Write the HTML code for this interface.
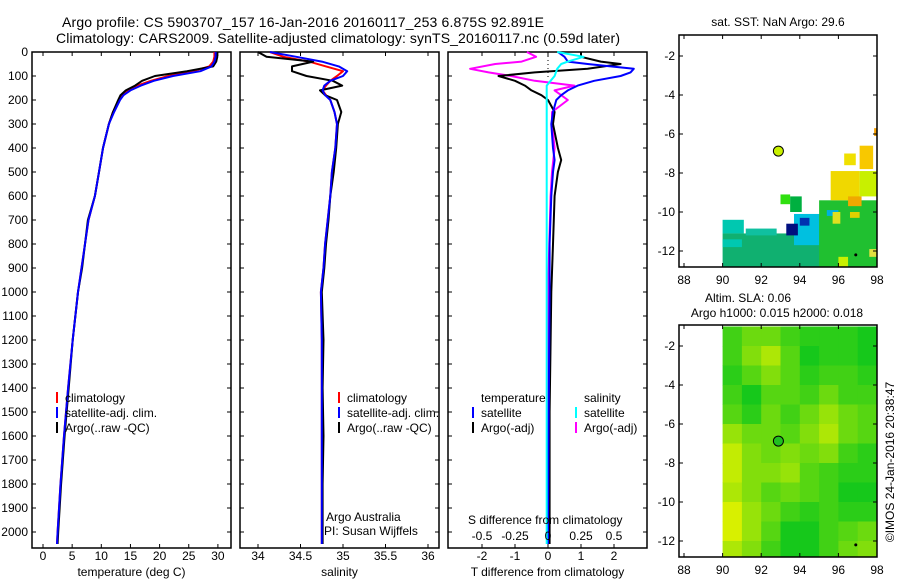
<!DOCTYPE html>
<html><head><meta charset="utf-8"><style>
body{margin:0;background:#fff}
svg{display:block;font-family:"Liberation Sans",sans-serif}
</style></head><body>
<svg id="c" width="900" height="580"></svg>
<script>
// ---- data ----
const depths=[0,20,40,60,80,100,120,140,160,180,200,250,300,400,500,600,700,800,900,1000,1200,1400,1600,1800,2000,2050];
const tempArgo=[29.8,29.9,29.7,29.2,24.7,19.2,17.0,15.8,14.2,13.3,12.9,12.0,11.3,10.3,9.6,8.9,7.7,7.2,6.7,6.0,5.1,4.4,3.7,3.1,2.6,2.5];
const tempClim=[29.4,29.4,29.2,28.5,25.7,21.5,18.5,16.2,14.5,13.5,13.0,12.0,11.3,10.3,9.6,8.9,7.8,7.2,6.6,6.0,5.1,4.3,3.6,3.0,2.5,2.4];
const tempSat=[29.6,29.6,29.4,28.9,27.0,22.3,19.0,16.8,15.0,13.8,13.2,12.2,11.3,10.3,9.6,8.9,7.8,7.2,6.6,6.0,5.1,4.3,3.6,3.0,2.5,2.4];
const salArgo=[34.0,34.1,34.65,34.4,34.4,34.57,34.88,34.99,34.73,34.79,34.93,34.98,34.94,34.92,34.89,34.85,34.83,34.8,34.78,34.75,34.77,34.76,34.77,34.76,34.76,34.76];
const salClim=[34.14,34.3,34.6,34.8,35.0,34.93,34.85,34.8,34.76,34.8,34.85,34.9,34.93,34.91,34.87,34.85,34.82,34.79,34.77,34.74,34.75,34.75,34.75,34.75,34.75,34.75];
const salSat=[34.14,34.45,34.75,34.95,35.05,35.0,34.85,34.78,34.76,34.79,34.85,34.9,34.93,34.91,34.87,34.85,34.82,34.79,34.77,34.74,34.75,34.75,34.75,34.75,34.75,34.75];
const diffDepths=[0,20,40,50,70,85,100,120,140,160,180,200,250,300,400,450,500,600,800,1000,1500,2000,2050];
const tDiffSat=[0.3,0.5,0.6,1.2,2.6,2.5,2.2,1.4,0.9,0.6,0.4,0.25,0.15,0.1,0.15,0.2,0.15,0.1,0.05,0.05,0.02,0.0,0.0];
const tDiffArgo=[1.0,1.0,1.6,2.2,1.2,-0.4,-1.5,-1.0,-0.7,-0.5,-0.2,0.0,0.2,0.15,0.3,0.4,0.3,0.2,0.15,0.1,0.05,0.05,0.05];
const sDiffArgo=[-0.16,-0.09,-0.2,-0.4,-0.59,-0.45,-0.28,-0.1,0.2,0.05,0.1,0.15,0.03,0.03,0.05,0.04,0.03,0.02,0.01,0.0,0.0,0.0,0.0];
const sDiffSat=[0.07,0.27,0.15,0.1,0.07,0.06,0.05,0.02,-0.01,-0.01,-0.01,-0.01,-0.01,-0.01,-0.01,-0.01,-0.01,-0.01,-0.01,-0.01,-0.01,-0.01,-0.01];
const depthTicks=[0,100,200,300,400,500,600,700,800,900,1000,1100,1200,1300,1400,1500,1600,1700,1800,1900,2000];
const tempTicks=[0,5,10,15,20,25,30];
const salTicks=[34,34.5,35,35.5,36];
const tDiffTicks=[-2,-1,0,1,2];
const sDiffTicks=[-0.5,-0.25,0,0.25,0.5];
const lonTicks=[88,90,92,94,96,98];
const latTicks=[-2,-4,-6,-8,-10,-12];
const slaGrid=[
[0.3,0.5,0.5,0.3,0.2,0.2,0.2,0.1],
[0.3,0.6,0.8,0.4,0.1,0.2,0.2,0.1],
[0.2,0.4,0.6,0.4,0.2,0.3,0.3,0.2],
[0.3,0.1,0.4,0.4,0.3,0.5,0.3,0.3],
[0.4,0.2,0.5,0.3,0.5,0.7,0.5,0.4],
[0.7,0.5,0.5,0.4,0.6,0.8,0.5,0.4],
[0.9,0.6,0.5,0.6,0.5,0.6,0.3,0.2],
[0.9,0.6,0.6,0.7,0.4,0.3,0.2,0.2],
[0.8,0.6,0.4,0.5,0.4,0.3,0.1,0.1],
[1.0,0.7,0.5,0.3,0.2,0.3,0.2,0.2],
[1.0,0.7,0.4,0.1,0.1,0.3,0.4,0.5],
[0.8,0.6,0.3,0.1,0.1,0.3,0.5,0.6]];
const sstCells=[
[90,91.1,-10.4,-11.1,"#00c8b0"],[90,98,-11.1,-12.8,"#10b070"],[91.2,92.8,-10.85,-11.2,"#10c0a0"],
[90,91,-11.4,-11.8,"#00c8b0"],[93.0,93.5,-9.1,-9.6,"#30e010"],[93.5,94.1,-9.2,-10.0,"#00b040"],
[93.7,95.3,-10.1,-11.7,"#00c0e0"],[94.0,94.5,-10.3,-10.7,"#0030b0"],[93.3,93.9,-10.6,-11.2,"#001080"],
[95.0,98,-9.4,-12.8,"#20c030"],[95.4,96.0,-9.9,-10.2,"#00b0e0"],
[95.6,97.1,-7.9,-9.4,"#f0d800"],[96.3,96.9,-7.0,-7.6,"#f0e000"],[97.1,97.8,-6.6,-7.8,"#f8c800"],
[97.85,98,-5.7,-6.1,"#f8a000"],[97.1,98,-7.9,-9.2,"#c8f000"],[96.5,97.2,-9.2,-9.7,"#f0a800"],
[95.7,96.1,-10.0,-10.6,"#e0e020"],[96.6,97.1,-10.0,-10.3,"#e0d000"],[97.6,98,-11.9,-12.3,"#e0e040"],
[96.0,96.5,-12.3,-12.8,"#c8f000"]];
const floatLon=92.891, floatLat=-6.875;

// ---- helpers ----
const S=document.getElementById('c');const NS='http://www.w3.org/2000/svg';
function el(t,a,p){const e=document.createElementNS(NS,t);for(const k in a)e.setAttribute(k,a[k]);(p||S).appendChild(e);return e;}
function txt(x,y,s,a){const e=el('text',Object.assign({x:x,y:y,'font-size':12,fill:'#000'},a||{}));e.textContent=s;return e;}
const dy=d=>52+0.24*d;
function panel(name,x0,x1,xs,ticks,fmt,labY,title){
  const g=el('g',{});
  el('rect',{x:x0,y:52,width:x1-x0,height:496,fill:'none',stroke:'#000','stroke-width':1.5},g);
  depthTicks.forEach(d=>{el('line',{x1:x0,x2:x0+4,y1:dy(d),y2:dy(d),stroke:'#000'},g);el('line',{x1:x1-4,x2:x1,y1:dy(d),y2:dy(d),stroke:'#000'},g);});
  ticks.forEach(v=>{const x=xs(v);el('line',{x1:x,x2:x,y1:52,y2:56,stroke:'#000'},g);el('line',{x1:x,x2:x,y1:544,y2:548,stroke:'#000'},g);
    const t=txt(x,labY,fmt(v),{'text-anchor':'middle'});});
  const t=txt((x0+x1)/2,576,title,{'text-anchor':'middle'});
  return g;
}
function line(g,xs,xsArr,ds,color,name,w){
  const pts=xsArr.map((v,i)=>xs(v).toFixed(1)+','+dy(ds[i]).toFixed(1)).join(' ');
  const p=el('polyline',{points:pts,fill:'none',stroke:color,'stroke-width':w||2,'stroke-linejoin':'round'},g);
  
}
function legend(x,y,color,label){const b=el('line',{x1:x,x2:x,y1:y-10,y2:y+1,stroke:color,'stroke-width':2});
  const t=txt(x+8,y,label);}

// title
let t=txt(62,27,'Argo profile: CS 5903707_157 16-Jan-2016 20160117_253 6.875S 92.891E',{'font-size':14,textLength:482});

t=txt(56,43,'Climatology: CARS2009. Satellite-adjusted climatology: synTS_20160117.nc (0.59d later)',{'font-size':14,textLength:564});

depthTicks.forEach(d=>{const t=txt(28,dy(d)+4,String(d),{'text-anchor':'end'});});

// panel 1 temperature
const tx=v=>43+5.83*v;
const g1=panel('temperature-panel',32,231,tx,tempTicks,String,560,'temperature (deg C)');
line(g1,tx,tempClim,depths,'#f00','clim-temp-line');line(g1,tx,tempArgo,depths,'#000','argo-temp-line');line(g1,tx,tempSat,depths,'#00f','sat-temp-line');
legend(57,402,'#f00','climatology');legend(57,417,'#00f','satellite-adj. clim.');legend(57,432,'#000','Argo(..raw -QC)');

// panel 2 salinity
const sx=v=>258+85*(v-34);
const g2=panel('salinity-panel',240,439,sx,salTicks,String,560,'salinity');
line(g2,sx,salClim,depths,'#f00','clim-sal-line');line(g2,sx,salArgo,depths,'#000','argo-sal-line');line(g2,sx,salSat,depths,'#00f','sat-sal-line');
legend(339,402,'#f00','climatology');legend(339,417,'#00f','satellite-adj. clim.');legend(339,432,'#000','Argo(..raw -QC)');
t=txt(326,521,'Argo Australia');
t=txt(324,535,'PI: Susan Wijffels');

// panel 3 differences
const dtx=v=>548+33*v, dsx=v=>548+132*v;
const g3=panel('difference-panel',448,647,dtx,tDiffTicks,String,560,'T difference from climatology');
sDiffTicks.forEach(v=>{const t=txt(dsx(v),540,String(v),{'text-anchor':'middle'});});
t=txt(468,524,'S difference from climatology');
el('line',{x1:548,x2:548,y1:56,y2:78,stroke:'#000','stroke-dasharray':'1,3'},g3);
line(g3,dsx,sDiffArgo,diffDepths,'#f0f','argo-sdiff-line');
line(g3,dtx,tDiffArgo,diffDepths,'#000','argo-tdiff-line');
line(g3,dtx,tDiffSat,diffDepths,'#00f','sat-tdiff-line');
line(g3,dsx,sDiffSat,diffDepths,'#0ff','sat-sdiff-line');
t=txt(481,402,'temperature');
t=txt(584,402,'salinity');
legend(473,417,'#00f','satellite');legend(473,432,'#000','Argo(-adj)');
legend(576,417,'#0ff','satellite');legend(576,432,'#f0f','Argo(-adj)');

// maps
const mx=v=>684+19.3*(v-88);
function mapGroup(name){const g=el('g',{});return g;}
function mapFrame(g,top,bot,my,labY){
  el('rect',{x:679,y:top,width:198,height:bot-top,fill:'none',stroke:'#000','stroke-width':1.5},g);
  latTicks.forEach(v=>{const y=my(v);el('line',{x1:679,x2:683,y1:y,y2:y,stroke:'#000'},g);el('line',{x1:873,x2:877,y1:y,y2:y,stroke:'#000'},g);
    const t=txt(675,y+4,String(v),{'text-anchor':'end'});});
  lonTicks.forEach(v=>{const x=mx(v);el('line',{x1:x,x2:x,y1:bot-4,y2:bot,stroke:'#000'},g);el('line',{x1:x,x2:x,y1:top,y2:top+4,stroke:'#000'},g);
    const t=txt(x,labY,String(v),{'text-anchor':'middle'});});
}
// SST map
const my1=v=>56+19.5*(-2-v);
const gm1=mapGroup('sst-map');
sstCells.forEach(c=>{const r=el('rect',{x:mx(c[0]),y:my1(c[2]),width:mx(c[1])-mx(c[0]),height:my1(c[3])-my1(c[2]),fill:c[4]},gm1);
  });
mapFrame(gm1,35,267,my1,284);
let c1=el('circle',{cx:mx(floatLon),cy:my1(floatLat),r:5,fill:'#c8f000',stroke:'#000'},gm1);

el('circle',{cx:mx(96.9),cy:my1(-12.2),r:1.5,fill:'#000'},gm1);
t=txt(778,26,'sat. SST: NaN Argo: 29.6',{'text-anchor':'middle'});
// SLA map
const my2=v=>346+19.5*(-2-v);
const gm2=mapGroup('sla-map');
const slaColor=v=>{const r=Math.round(0+216*v),gg=Math.round(196+44*v),b=Math.round(30*(1-v));return `rgb(${r},${gg},${b})`;};
slaGrid.forEach((row,i)=>row.forEach((v,j)=>{
  const y0=Math.max(325,my2(-1-i)),y1=Math.min(557,my2(-2-i));
  const r=el('rect',{x:mx(90+j),y:y0,width:mx(91+j)-mx(90+j)+0.5,height:y1-y0+0.5,fill:slaColor(v)},gm2);
  }));
mapFrame(gm2,325,557,my2,574);
let c2=el('circle',{cx:mx(floatLon),cy:my2(floatLat),r:5,fill:'#20c020',stroke:'#000'},gm2);

el('circle',{cx:mx(96.9),cy:my2(-12.2),r:1.5,fill:'#000'},gm2);
t=txt(748,302,'Altim. SLA: 0.06',{'text-anchor':'middle'});
t=txt(777,317,'Argo h1000: 0.015 h2000: 0.018',{'text-anchor':'middle'});
t=txt(0,0,'©IMOS 24-Jan-2016 20:38:47',{'text-anchor':'middle',transform:'translate(894,462) rotate(-90)'});

</script>
</body></html>
